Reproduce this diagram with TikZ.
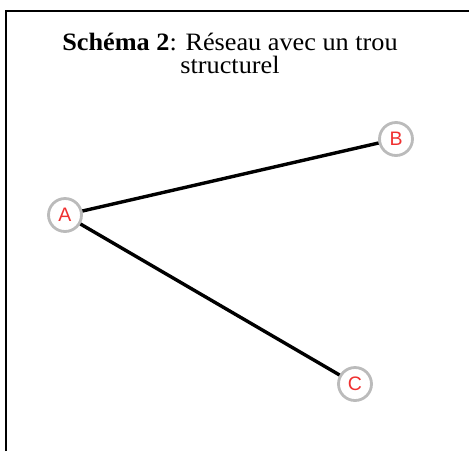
\documentclass[tikz,border=0pt]{standalone}
\usepackage{fontspec}
\setmainfont{Liberation Serif}
\newfontfamily\labfont{Liberation Sans}
\definecolor{ringgray}{HTML}{BBBBBB}
\definecolor{labred}{HTML}{F03030}
\begin{document}
\begin{tikzpicture}[x=1pt,y=-1pt,
  vertex/.style={circle,draw=ringgray,line width=2.8pt,fill=white,minimum size=33pt,inner sep=0pt,text=labred,font=\labfont\fontsize{19.5}{19.5}\selectfont},
  edge/.style={line width=3.4pt,black},
  titletext/.style={font=\fontsize{25}{23}\selectfont,align=center,anchor=base,inner sep=0pt}]
\useasboundingbox (0,0) rectangle (469,451);
\draw[line width=1.8pt] (6,451) -- (6,11) -- (469,11);
\node[titletext] (title) at (230,73.5) {\scalebox{1.05}[1]{\textbf{Schéma 2}: Réseau avec un trou}\\\scalebox{1.05}[1]{structurel}};
\node[vertex] (A) at (65,215) {A};
\node[vertex] (B) at (396,139) {B};
\node[vertex] (C) at (355,384) {C};
\draw[edge] (A) -- (B);
\draw[edge] (A) -- (C);
\end{tikzpicture}
\end{document}
